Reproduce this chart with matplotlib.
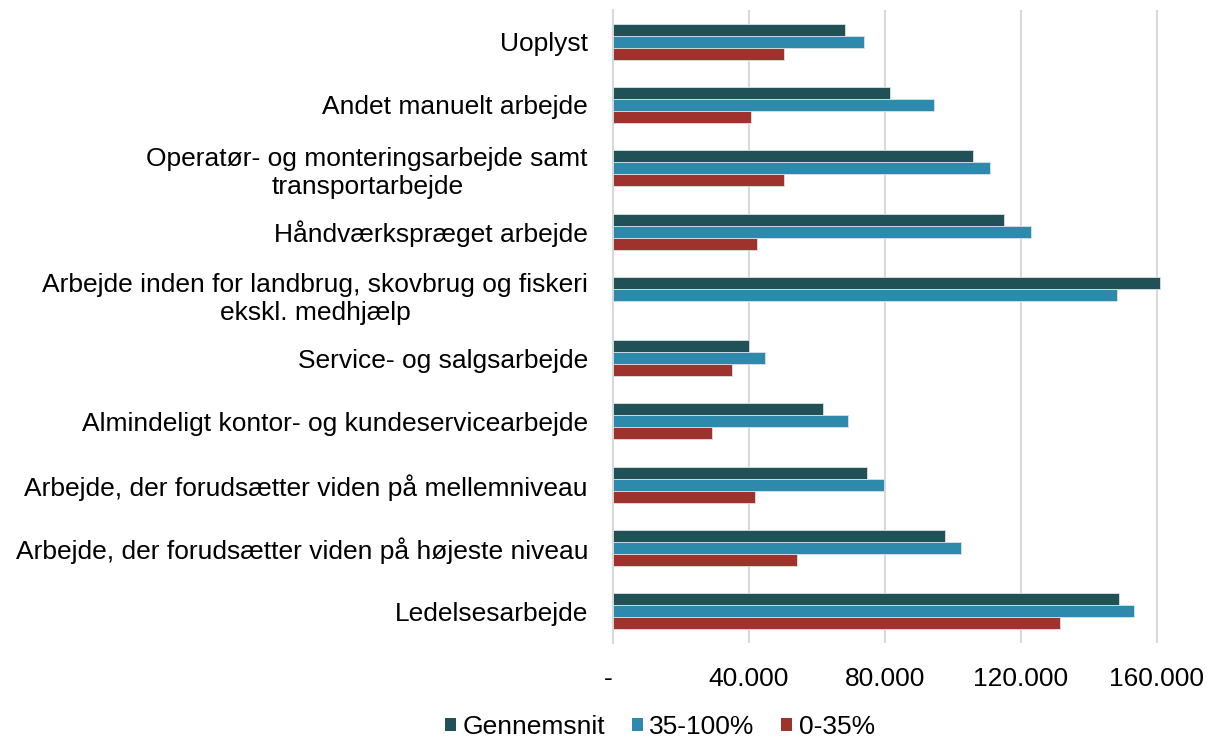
import matplotlib
matplotlib.use("Agg")
import matplotlib.pyplot as plt
import numpy as np
from matplotlib.ticker import FuncFormatter

plt.rcParams['font.family'] = ['Liberation Sans', 'DejaVu Sans']

categories = [
    "Ledelsesarbejde",
    "Arbejde, der forudsætter viden på højeste niveau",
    "Arbejde, der forudsætter viden på mellemniveau",
    "Almindeligt kontor- og kundeservicearbejde",
    "Service- og salgsarbejde",
    "Arbejde inden for landbrug, skovbrug og fiskeri\nekskl. medhjælp",
    "Håndværkspræget arbejde",
    "Operatør- og monteringsarbejde samt\ntransportarbejde",
    "Andet manuelt arbejde",
    "Uoplyst",
]
gennemsnit = [148800, 97600, 74700, 61700, 39900, 160800, 115000, 105800, 81500, 68300]
pct35_100 = [153400, 102500, 79800, 69100, 44800, 148300, 123000, 111000, 94500, 73700]
pct0_35 = [131500, 54000, 41900, 29000, 35000, 0, 42300, 50300, 40500, 50400]

series_names = ["Gennemsnit", "35-100%", "0-35%"]
colors = ["#1F5157", "#2E8AAD", "#A0322D"]
ticks = [0, 40000, 80000, 120000, 160000]

FS = 19

fig = plt.figure(figsize=(12.09, 7.40), dpi=100)
ax = fig.add_axes([613/1209, 1 - 643/740, (1196-613)/1209, 633/740])

y = np.arange(len(categories))
h = 0.19
for i, (vals, col, name) in enumerate(zip([gennemsnit, pct35_100, pct0_35], colors, series_names)):
    offs = (1 - i) * h
    ax.barh(y + offs, vals, height=h, color=col, edgecolor="#d9e2e6", linewidth=0.6,
            label=name, zorder=3)

ax.set_ylim(-0.5, len(categories) - 0.5)
ax.set_xlim(0, 171500)
ax.set_yticks(y)
ax.set_yticklabels(categories, fontsize=FS, multialignment='center', linespacing=1.2)
ax.set_xticks(ticks)

def fmt(v, pos):
    if v == 0:
        return "-"
    return f"{int(v):,}".replace(",", ".")

ax.xaxis.set_major_formatter(FuncFormatter(fmt))
ax.tick_params(axis='x', labelsize=FS, length=0, pad=17)
ax.tick_params(axis='y', length=0, pad=18)
for lab in ax.get_xticklabels():
    if lab.get_text() == "-":
        lab.set_horizontalalignment('right')

ax.grid(axis='x', color='#d9d9d9', linewidth=1.5, zorder=0)
for s in ['top', 'right', 'bottom']:
    ax.spines[s].set_visible(False)
ax.spines['left'].set_color('#d9d9d9')
ax.spines['left'].set_linewidth(1.5)

leg = fig.legend(loc='center', bbox_to_anchor=(660/1209, 1 - 727/740), ncol=3, frameon=False,
                 fontsize=FS, handlelength=0.42, handleheight=0.42, handletextpad=0.25,
                 columnspacing=1.0, borderpad=0.1)
for p in leg.get_patches():
    p.set_edgecolor('none')

fig.savefig("out.png", dpi=100)
